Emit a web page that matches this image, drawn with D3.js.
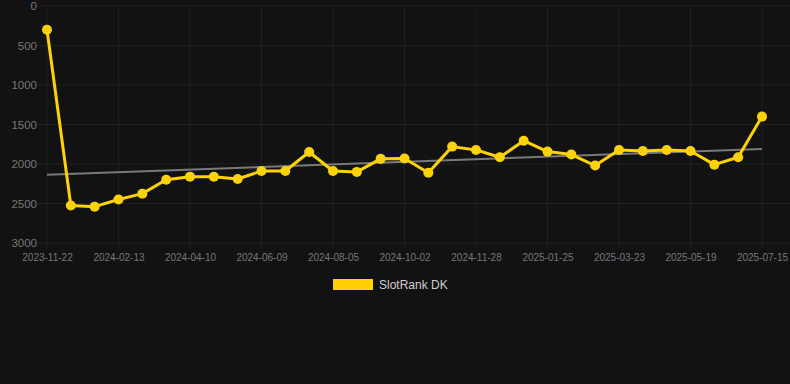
<!doctype html>
<html>
  <head>
    <meta charset="utf-8">
    <title>SlotRank DK</title>
    <script src="https://d3js.org/d3.v7.min.js"></script>
    <style type="text/css">
      body {
        margin: 0;
        background: #121212;
      }
      svg {
        display: block;
        font-family: "Liberation Sans", Arial, sans-serif;
      }
      .grid line {
        stroke: #1f1f1f;
        stroke-width: 1;
      }
      .axis text {
        fill: #777777;
      }
    </style>
  </head>
  <body>
    <svg></svg>
    <script type="text/javascript">
      var w = 790,
        h = 384;

      // rank values, one per snapshot
      var rankValues = [300, 2525, 2540, 2450, 2375, 2200, 2160, 2162, 2190, 2088, 2088,
        1848, 2088, 2100, 1935, 1930, 2110, 1780, 1822, 1915, 1705,
        1843, 1880, 2020, 1822, 1835, 1822, 1835, 2008, 1915, 1400
      ];
      // labels shown on the x axis (every third snapshot)
      var tickLabels = ['2023-11-22', '2024-02-13', '2024-04-10', '2024-06-09', '2024-08-05',
        '2024-10-02', '2024-11-28', '2025-01-25', '2025-03-23', '2025-05-19', '2025-07-15'
      ];
      var yTicks = [0, 500, 1000, 1500, 2000, 2500, 3000];
      // trend line: start and end value
      var trendValues = [2135, 1810];
      var seriesName = 'SlotRank DK';

      var svg = d3.select('svg')
        .attr('width', w)
        .attr('height', h);

      var xScale = d3.scalePoint()
        .domain(d3.range(rankValues.length))
        .range([47, 762]);
      var yScale = d3.scaleLinear()
        .domain([0, 3000])
        .range([6, 243]);

      var tickIdx = tickLabels.map(function(d, i) { return i * 3; });

      // gridlines
      var grid = svg.append('g').attr('class', 'grid');
      grid.selectAll('line.h')
        .data(yTicks)
        .enter()
        .append('line')
        .attr('class', 'h')
        .attr('x1', 38)
        .attr('x2', 790)
        .attr('y1', function(d) { return yScale(d); })
        .attr('y2', function(d) { return yScale(d); });
      grid.selectAll('line.v')
        .data(tickIdx)
        .enter()
        .append('line')
        .attr('class', 'v')
        .attr('x1', function(d) { return xScale(d); })
        .attr('x2', function(d) { return xScale(d); })
        .attr('y1', 6)
        .attr('y2', 248);

      // y axis
      var yAxis = svg.append('g')
        .attr('class', 'axis')
        .attr('transform', 'translate(37,0)')
        .call(d3.axisLeft(yScale).tickValues(yTicks).tickFormat(d3.format('d')).tickSize(0).tickPadding(0));
      yAxis.select('.domain').remove();
      yAxis.selectAll('text').style('font-size', '11.5px');

      // x axis
      var xAxis = svg.append('g')
        .attr('class', 'axis')
        .attr('transform', 'translate(0,250)')
        .call(d3.axisBottom(xScale)
          .tickValues(tickIdx)
          .tickFormat(function(d) { return tickLabels[d / 3]; })
          .tickSize(0)
          .tickPadding(4));
      xAxis.select('.domain').remove();
      xAxis.selectAll('text').style('font-size', '10px');

      // trend line
      svg.append('line')
        .attr('x1', xScale(0))
        .attr('x2', xScale(rankValues.length - 1))
        .attr('y1', yScale(trendValues[0]))
        .attr('y2', yScale(trendValues[1]))
        .attr('stroke', '#7a7a7a')
        .attr('stroke-width', 2);

      // series line
      var line = d3.line()
        .x(function(d, i) { return xScale(i); })
        .y(function(d) { return yScale(d); });
      svg.append('path')
        .datum(rankValues)
        .attr('d', line)
        .attr('fill', 'none')
        .attr('stroke', '#ffd200')
        .attr('stroke-width', 3)
        .attr('stroke-linejoin', 'round');

      svg.selectAll('circle')
        .data(rankValues)
        .enter()
        .append('circle')
        .attr('cx', function(d, i) { return xScale(i); })
        .attr('cy', function(d) { return yScale(d); })
        .attr('r', 5)
        .attr('fill', '#ffd200');

      // legend
      var legend = svg.append('g').attr('transform', 'translate(333,279)');
      legend.append('rect')
        .attr('width', 40)
        .attr('height', 11)
        .attr('fill', '#ffd200');
      legend.append('text')
        .attr('x', 46)
        .attr('y', 10)
        .attr('fill', '#d0d0d0')
        .style('font-size', '12px')
        .text(seriesName);
    </script>
  </body>
</html>
